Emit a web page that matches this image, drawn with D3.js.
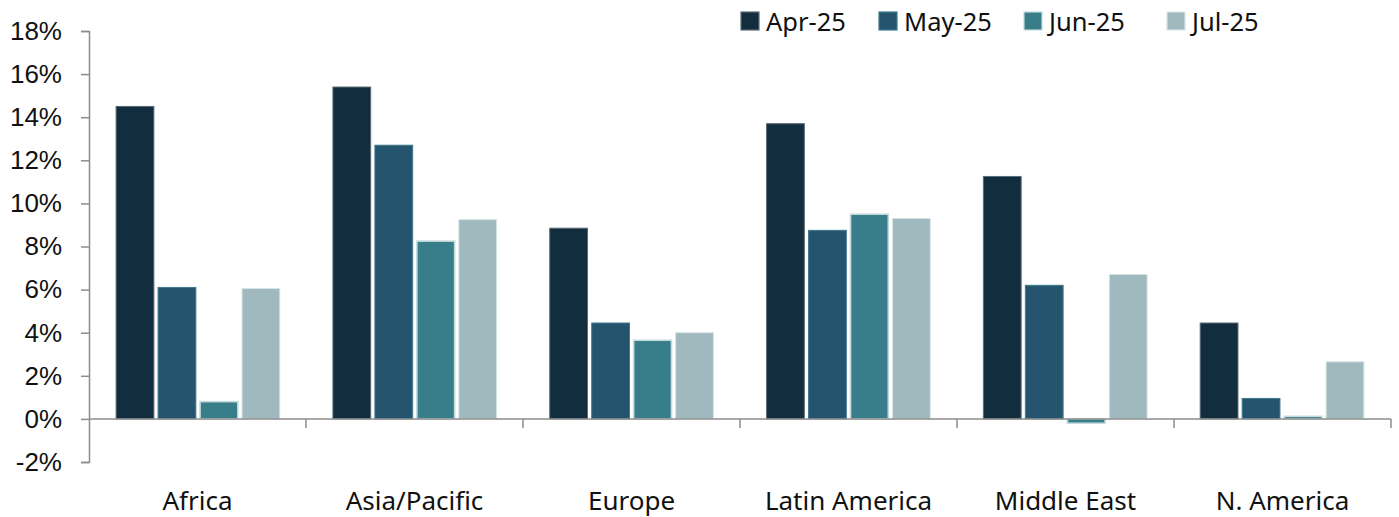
<!DOCTYPE html>
<html><head><meta charset="utf-8">
<script src="https://cdn.jsdelivr.net/npm/d3@7"></script>
<style>body{margin:0;background:#fff}svg{display:block;font-family:"Noto Sans","Open Sans",sans-serif}</style>
</head><body><svg id="c" width="1399" height="517"></svg>
<script>
const categories = ["Africa","Asia/Pacific","Europe","Latin America","Middle East","N. America"];
const seriesNames = ["Apr-25","May-25","Jun-25","Jul-25"];
const apr25 = [14.5, 15.4, 8.85, 13.7, 11.25, 4.45];
const may25 = [6.1, 12.7, 4.45, 8.75, 6.2, 0.95];
const jun25 = [0.8, 8.25, 3.65, 9.5, -0.2, 0.12];
const jul25 = [6.05, 9.25, 4.0, 9.3, 6.7, 2.65];
const yTicks = [-2,0,2,4,6,8,10,12,14,16,18];
const colors = ["#122d3e","#25556e","#387d8a","#9fb9bf"];
const strokes = ["#5a6b76","#3f7a8c","#c4dadb","#d6e4e6"];

const values = [apr25, may25, jun25, jul25];
const svg = d3.select("#c");
const m = {l:89, r:8, t:31, b:55};
const y = d3.scaleLinear().domain([-2,18]).range([462,31]);
const x0 = d3.scaleBand().domain(categories).range([m.l, 1391]).paddingInner(0.245).paddingOuter(0.125);
const x1 = d3.scaleBand().domain(seriesNames).range([0, x0.bandwidth()]).paddingInner(0.1);

// bars
seriesNames.forEach((s, si) => {
  svg.append("g").selectAll("rect").data(categories).join("rect")
    .attr("x", c => x0(c) + x1(s))
    .attr("width", x1.bandwidth())
    .attr("y", (c, i) => y(Math.max(0, values[si][i])))
    .attr("height", (c, i) => Math.abs(y(values[si][i]) - y(0)))
    .attr("fill", colors[si])
    .attr("stroke", strokes[si])
    .attr("stroke-width", si === 2 ? 1.6 : 1);
});

// y axis
const ya = svg.append("g").attr("transform", `translate(${m.l},0)`)
  .call(d3.axisLeft(y).tickValues(yTicks).tickSize(8).tickPadding(19).tickFormat(d => d + "%"));
ya.select(".domain").attr("stroke", "#8c8c8c").attr("stroke-width", 1.5);
ya.selectAll(".tick line").attr("stroke", "#8c8c8c").attr("stroke-width", 1.5);
ya.selectAll("text").attr("font-size", 26).attr("fill", "#111").attr("font-family", "inherit");

// x axis along zero
const outer = d3.scaleBand().domain(categories).range([m.l, 1391]);
const xa = svg.append("g").attr("transform", `translate(0,${y(0)})`);
xa.append("line").attr("x1", m.l).attr("x2", 1391).attr("stroke", "#8c8c8c").attr("stroke-width", 1.5);
xa.selectAll("line.t").data(categories).join("line").attr("class","t")
  .attr("x1", c => outer(c) + outer.bandwidth())
  .attr("x2", c => outer(c) + outer.bandwidth())
  .attr("y1", 0).attr("y2", 9).attr("stroke", "#8c8c8c").attr("stroke-width", 1.5);
svg.append("g").selectAll("text").data(categories).join("text")
  .attr("x", c => outer(c) + outer.bandwidth()/2)
  .attr("y", 510).attr("text-anchor", "middle").attr("font-size", 26).attr("fill", "#111")
  .text(c => c);

// legend
const legX = [741, 879, 1024, 1167];
const lg = svg.append("g");
seriesNames.forEach((s, i) => {
  lg.append("rect").attr("x", legX[i]).attr("y", 12).attr("width", 18).attr("height", 18)
    .attr("fill", colors[i]).attr("stroke", strokes[i]).attr("stroke-width", 1.2);
  lg.append("text").attr("x", legX[i] + 25).attr("y", 31).attr("font-size", 25.5).attr("fill", "#111").text(s);
});
</script></body></html>
